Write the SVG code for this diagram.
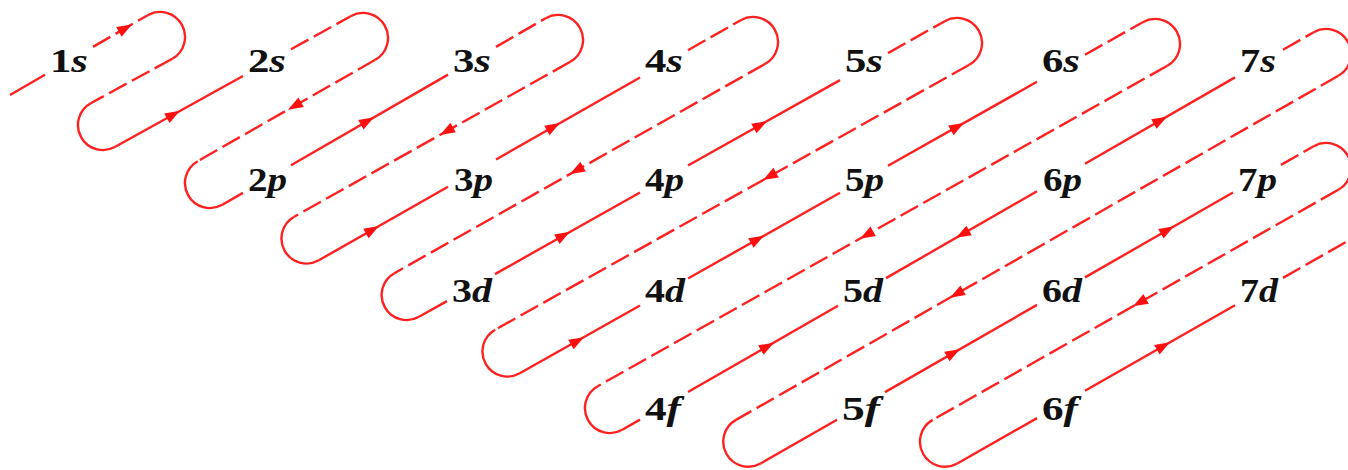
<svg xmlns="http://www.w3.org/2000/svg" xmlns:xlink="http://www.w3.org/1999/xlink" width="1348" height="470" viewBox="0 0 1348 470">
<style>
.ln{fill:none;stroke:#ff2020;stroke-width:2.4;stroke-linecap:butt}
.ds{stroke-dasharray:20 6}
.ah{fill:#ff1010}
</style>
<defs>
<path id="ah" d="M8,0 L-7,-5.5 L-7,5.5 Z"/>
</defs>
<rect width="1348" height="470" fill="#fff"/>
<g id="connectors">
<path class="ln" d="M10,95 L45,74.7 M115.3,146.8 L243,76 M222.3,204.8 L243,192.9 M291,165.2 L448,74.6 M318.8,260.3 L448,186.8 M496,159.5 L640,77.5 M419,316.8 L447,301.1 M495,274.1 L640,192.5 M688,165.5 L840,80.1 M519.8,373.3 L640,305.5 M688,278.5 L840,192.8 M888,165.7 L1037,81.8 M622.3,429.8 L640,419.6 M688,392 L838,305.8 M886,278.1 L1037,191.3 M1085,163.7 L1235,77.4 M760.6,463.5 L837,419.7 M885,392.1 L1037,304.9 M1085,277.4 L1233,192.5 M957.3,463.5 L1037,418.1 M1085,390.7 L1235,305.2"/>
<path class="ln ds" d="M93,46.9 L147.7,15.2 M291,49.3 L350.7,16.2 M496,46.9 L545.7,18.2 M688,50.2 L740.7,20.2 M888,53.1 L944.7,21.2 M1085,54.7 L1142.7,22.2 M1283,49.8 L1313.7,32.2 M1281,164.9 L1313.7,146.2 M1283,277.9 L1360,234"/>
<path class="ln ds" d="M172.3,58.8 L90.7,103.2 M375.3,59.8 L197.7,161.2 M570.3,61.8 L294.2,216.7 M765.3,63.8 L394.4,273.2 M969.3,64.8 L495.2,329.7 M1167.3,65.8 L597.7,386.2 M1338.3,75.8 L736,419.9 M1338.3,189.8 L932.7,419.9"/>
<path class="ln" d="M147.7,15.2 A25,25 0 0 1 172.3,58.8 M350.7,16.2 A25,25 0 0 1 375.3,59.8 M545.7,18.2 A25,25 0 0 1 570.3,61.8 M740.7,20.2 A25,25 0 0 1 765.3,63.8 M944.7,21.2 A25,25 0 0 1 969.3,64.8 M1142.7,22.2 A25,25 0 0 1 1167.3,65.8 M1313.7,32.2 A25,25 0 0 1 1338.3,75.8 M1313.7,146.2 A25,25 0 0 1 1338.3,189.8"/>
<path class="ln" d="M90.7,103.2 A25,25 0 0 0 115.3,146.8 M197.7,161.2 A25,25 0 0 0 222.3,204.8 M294.2,216.7 A25,25 0 0 0 318.8,260.3 M394.4,273.2 A25,25 0 0 0 419,316.8 M495.2,329.7 A25,25 0 0 0 519.8,373.3 M597.7,386.2 A25,25 0 0 0 622.3,429.8 M736,419.9 A25,25 0 0 0 760.6,463.5 M932.7,419.9 A25,25 0 0 0 957.3,463.5"/>
<g class="ah">
<use xlink:href="#ah" transform="translate(125,28.4) rotate(-29.5)"/>
<use xlink:href="#ah" transform="translate(173,114.8) rotate(-29.5)"/>
<use xlink:href="#ah" transform="translate(295,105.7) rotate(150.5)"/>
<use xlink:href="#ah" transform="translate(367,121.3) rotate(-29.5)"/>
<use xlink:href="#ah" transform="translate(447,131) rotate(150.5)"/>
<use xlink:href="#ah" transform="translate(553,127) rotate(-29.5)"/>
<use xlink:href="#ah" transform="translate(577,170.1) rotate(150.5)"/>
<use xlink:href="#ah" transform="translate(760,125.1) rotate(-29.5)"/>
<use xlink:href="#ah" transform="translate(770,176.1) rotate(150.5)"/>
<use xlink:href="#ah" transform="translate(957,126.9) rotate(-29.5)"/>
<use xlink:href="#ah" transform="translate(1160,120.6) rotate(-29.5)"/>
<use xlink:href="#ah" transform="translate(372,230) rotate(-29.5)"/>
<use xlink:href="#ah" transform="translate(563,235.8) rotate(-29.5)"/>
<use xlink:href="#ah" transform="translate(757,239.6) rotate(-29.5)"/>
<use xlink:href="#ah" transform="translate(867,234.7) rotate(150.5)"/>
<use xlink:href="#ah" transform="translate(963,233.9) rotate(150.5)"/>
<use xlink:href="#ah" transform="translate(957,293.7) rotate(150.5)"/>
<use xlink:href="#ah" transform="translate(1167,230.3) rotate(-29.5)"/>
<use xlink:href="#ah" transform="translate(1140,302.3) rotate(150.5)"/>
<use xlink:href="#ah" transform="translate(577,341.1) rotate(-29.5)"/>
<use xlink:href="#ah" transform="translate(767,346.6) rotate(-29.5)"/>
<use xlink:href="#ah" transform="translate(953,353.1) rotate(-29.5)"/>
<use xlink:href="#ah" transform="translate(1163,346.3) rotate(-29.5)"/>
</g>
</g>
<g font-family="Liberation Serif, serif" font-weight="bold" font-size="33" fill="#111">
<g id="n-1s"><text x="50" y="72" textLength="38" lengthAdjust="spacingAndGlyphs">1<tspan font-style="italic">s</tspan></text></g>
<g id="n-2s"><text x="248" y="72" textLength="38" lengthAdjust="spacingAndGlyphs">2<tspan font-style="italic">s</tspan></text></g>
<g id="n-3s"><text x="453" y="72" textLength="38" lengthAdjust="spacingAndGlyphs">3<tspan font-style="italic">s</tspan></text></g>
<g id="n-4s"><text x="645" y="72" textLength="38" lengthAdjust="spacingAndGlyphs">4<tspan font-style="italic">s</tspan></text></g>
<g id="n-5s"><text x="845" y="72" textLength="38" lengthAdjust="spacingAndGlyphs">5<tspan font-style="italic">s</tspan></text></g>
<g id="n-6s"><text x="1042" y="72" textLength="38" lengthAdjust="spacingAndGlyphs">6<tspan font-style="italic">s</tspan></text></g>
<g id="n-7s"><text x="1240" y="72" textLength="36" lengthAdjust="spacingAndGlyphs">7<tspan font-style="italic">s</tspan></text></g>
<g id="n-2p"><text x="248" y="191" textLength="39" lengthAdjust="spacingAndGlyphs">2<tspan font-style="italic">p</tspan></text></g>
<g id="n-3p"><text x="454" y="191" textLength="39" lengthAdjust="spacingAndGlyphs">3<tspan font-style="italic">p</tspan></text></g>
<g id="n-4p"><text x="645" y="191" textLength="39" lengthAdjust="spacingAndGlyphs">4<tspan font-style="italic">p</tspan></text></g>
<g id="n-5p"><text x="845" y="191" textLength="39" lengthAdjust="spacingAndGlyphs">5<tspan font-style="italic">p</tspan></text></g>
<g id="n-6p"><text x="1043" y="191" textLength="39" lengthAdjust="spacingAndGlyphs">6<tspan font-style="italic">p</tspan></text></g>
<g id="n-7p"><text x="1238" y="191" textLength="39" lengthAdjust="spacingAndGlyphs">7<tspan font-style="italic">p</tspan></text></g>
<g id="n-3d"><text x="452" y="302" textLength="40" lengthAdjust="spacingAndGlyphs">3<tspan font-style="italic">d</tspan></text></g>
<g id="n-4d"><text x="645" y="302" textLength="40" lengthAdjust="spacingAndGlyphs">4<tspan font-style="italic">d</tspan></text></g>
<g id="n-5d"><text x="843" y="302" textLength="40" lengthAdjust="spacingAndGlyphs">5<tspan font-style="italic">d</tspan></text></g>
<g id="n-6d"><text x="1042" y="302" textLength="40" lengthAdjust="spacingAndGlyphs">6<tspan font-style="italic">d</tspan></text></g>
<g id="n-7d"><text x="1240" y="302" textLength="38" lengthAdjust="spacingAndGlyphs">7<tspan font-style="italic">d</tspan></text></g>
<g id="n-4f"><text x="645" y="420" textLength="36" lengthAdjust="spacingAndGlyphs">4<tspan font-style="italic">f</tspan></text></g>
<g id="n-5f"><text x="842" y="420" textLength="38" lengthAdjust="spacingAndGlyphs">5<tspan font-style="italic">f</tspan></text></g>
<g id="n-6f"><text x="1042" y="420" textLength="36" lengthAdjust="spacingAndGlyphs">6<tspan font-style="italic">f</tspan></text></g>
</g>
</svg>
